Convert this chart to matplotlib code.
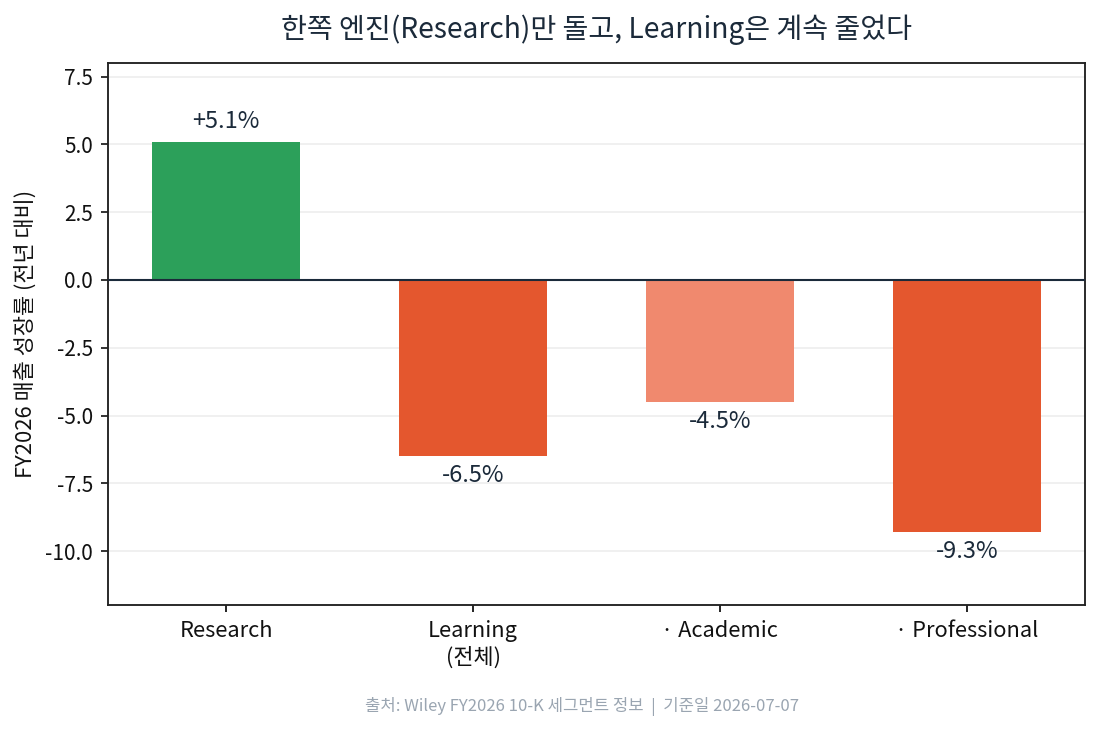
import matplotlib
matplotlib.use('Agg')
import matplotlib.pyplot as plt

plt.rcParams['font.family'] = ['Noto Sans CJK KR', 'DejaVu Sans']
plt.rcParams['axes.unicode_minus'] = False

# data
segments = ['Research', 'Learning\n(전체)', '· Academic', '· Professional']
growth = [5.1, -6.5, -4.5, -9.3]
bar_colors = ['#2ca05a', '#e4572e', '#f0896e', '#e4572e']

text_color = '#1b2a3a'

fig, ax = plt.subplots(figsize=(7.33, 4.88), dpi=150)

x = range(len(segments))
ax.bar(x, growth, width=0.6, color=bar_colors, zorder=2)

# value labels
for i, v in enumerate(growth):
    label = f'+{v:.1f}%' if v > 0 else f'{v:.1f}%'
    if v >= 0:
        ax.text(i, v + 0.3, label, ha='center', va='bottom', fontsize=11.3, color=text_color)
    else:
        ax.text(i, v - 0.3, label, ha='center', va='top', fontsize=11.3, color=text_color)

ax.axhline(0, color=text_color, linewidth=1.0, zorder=3)

ax.set_ylim(-12, 8)
ax.set_yticks([-10, -7.5, -5, -2.5, 0, 2.5, 5, 7.5])
ax.set_yticklabels(['-10.0', '-7.5', '-5.0', '-2.5', '0.0', '2.5', '5.0', '7.5'])
ax.set_xticks(list(x))
ax.set_xticklabels(segments, fontsize=10.5, color='#111111', linespacing=1.25)
ax.tick_params(axis='y', labelsize=10, colors='#111111')
ax.yaxis.grid(True, color='#eeeeee', linewidth=0.8, zorder=0)
ax.set_axisbelow(True)

ax.set_ylabel('FY2026 매출 성장률 (전년 대비)', fontsize=10.5, color='#111111')
ax.set_title('한쪽 엔진(Research)만 돌고, Learning은 계속 줄었다', fontsize=13.5,
             color=text_color, pad=12)

for s in ax.spines.values():
    s.set_color('#222222')
    s.set_linewidth(0.9)

fig.text(0.529, 0.035, '출처: Wiley FY2026 10-K 세그먼트 정보  |  기준일 2026-07-07',
         ha='center', va='center', fontsize=8, color='#9aa5b1')

fig.subplots_adjust(left=0.098, right=0.987, top=0.914, bottom=0.173)
fig.savefig('out.png', dpi=150)
